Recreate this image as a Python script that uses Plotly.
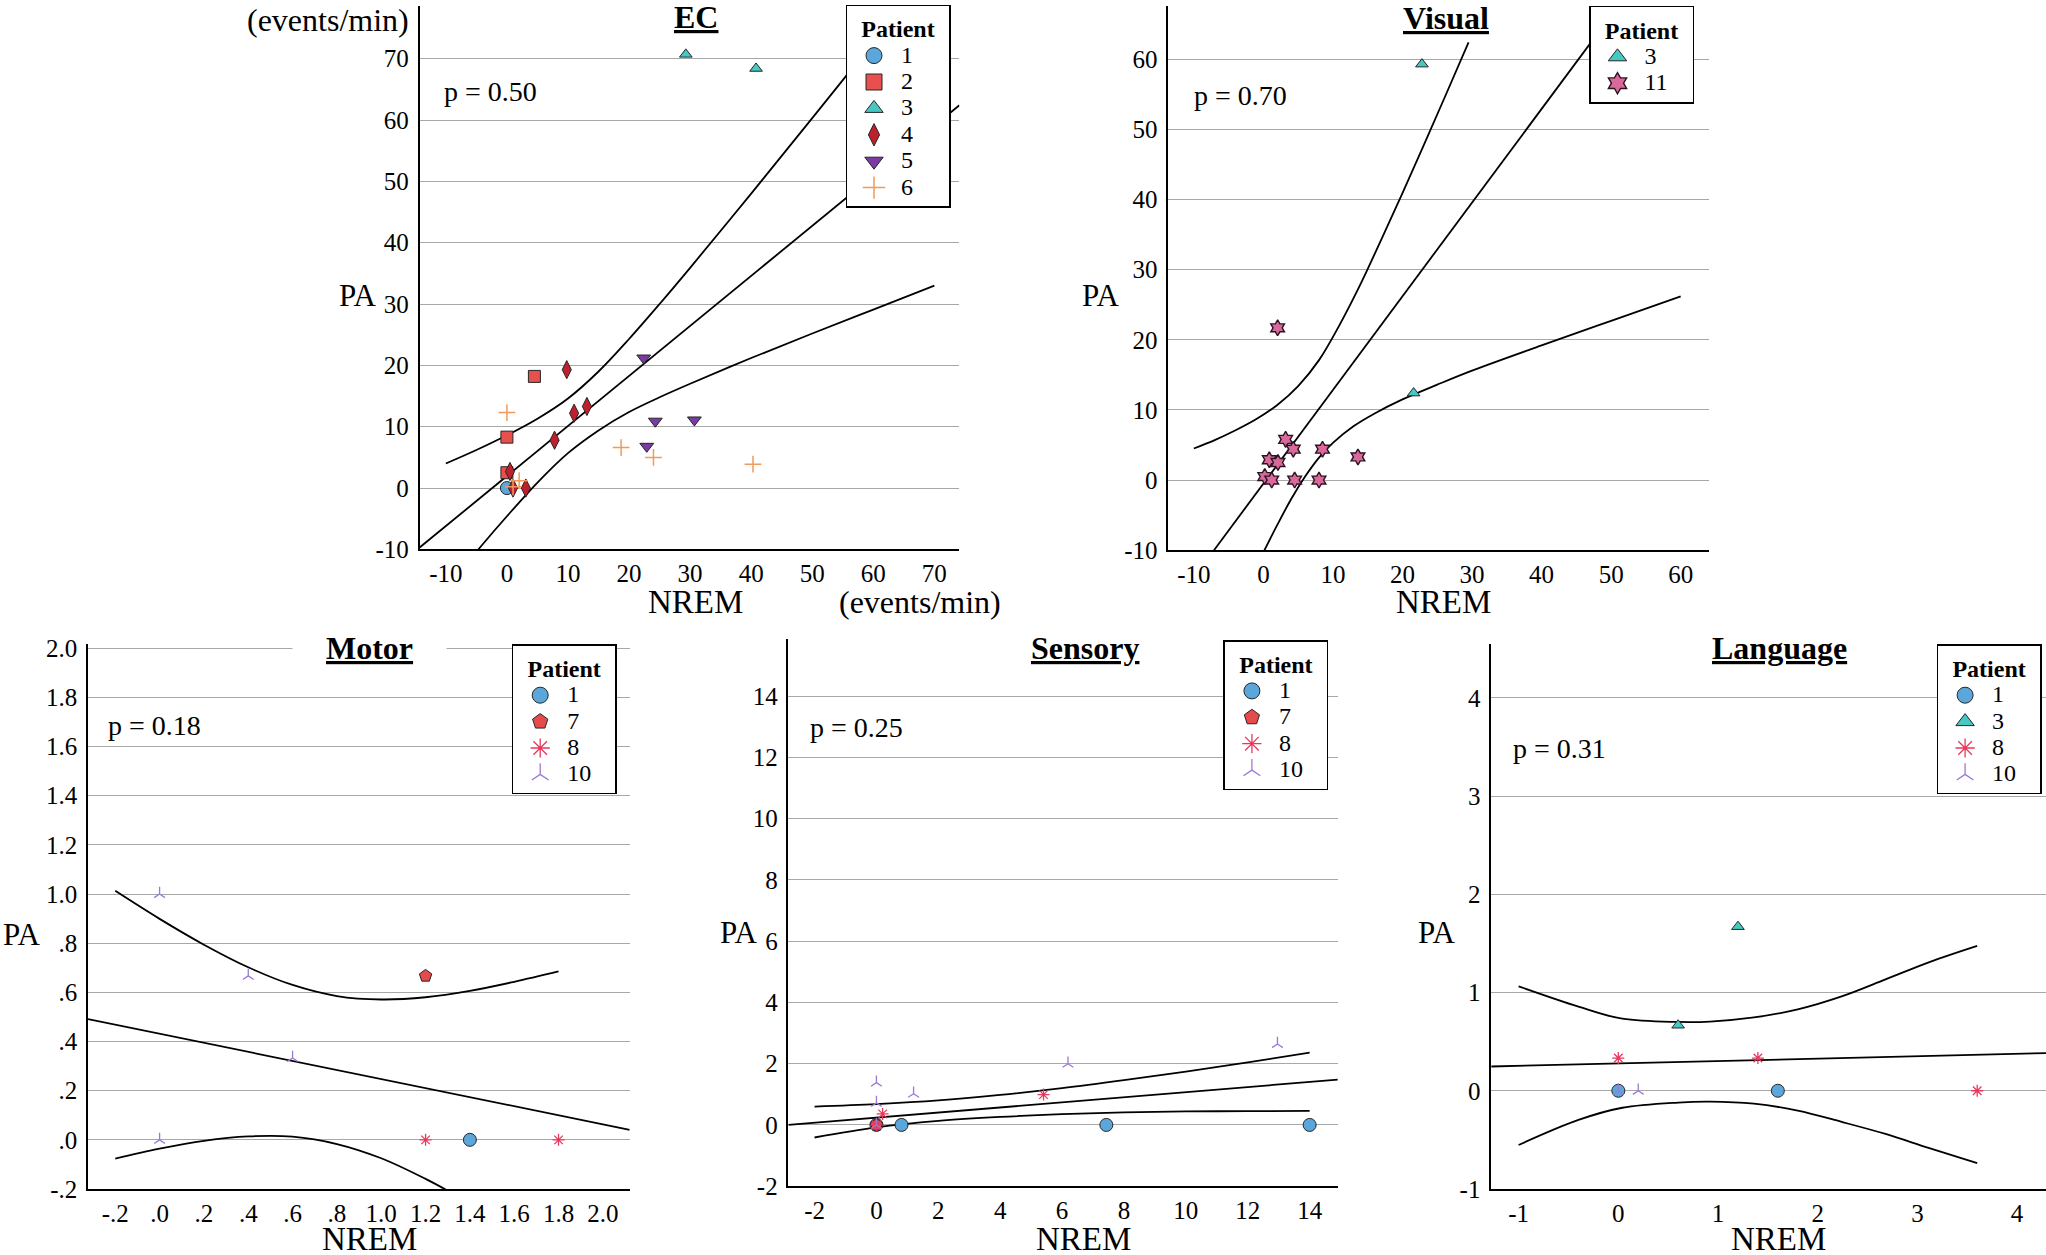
import plotly.graph_objects as go

W, H = 2046, 1255
FONT = "Liberation Serif"

# ---------------- data ----------------
# EC panel
EC_P1_X = [0.0];                          EC_P1_Y = [0.0]
EC_P2_X = [4.5, 0.0, 0.0];                EC_P2_Y = [18.2, 8.3, 2.5]
EC_P3_X = [29.3, 40.8];                   EC_P3_Y = [70.7, 68.4]
EC_P4_X = [9.8, 11.0, 13.1, 7.8, 0.5, 3.1, 1.0]
EC_P4_Y = [19.3, 12.2, 13.3, 7.8, 2.7, 0.0, 0.0]
EC_P5_X = [22.4, 24.3, 30.7, 22.9];       EC_P5_Y = [21.2, 10.9, 11.1, 6.8]
EC_P6_X = [0.0, 18.7, 24.0, 40.3, 2.0, 1.0]
EC_P6_Y = [12.3, 6.6, 5.0, 3.9, 1.2, 0.2]
EC_FIT_X = [-14.3, 74.1];                 EC_FIT_Y = [-9.7, 62.4]
EC_UP_X = [-10, -5, 0, 5, 10, 15, 20, 25, 30, 40, 50, 60, 65]
EC_UP_Y = [4.0, 6.2, 8.6, 11.3, 14.6, 19.0, 24.3, 30.0, 35.9, 48.0, 60.3, 72.7, 78.9]
EC_LO_X = [-5, -4, 0, 5, 10, 15, 20, 25, 30, 40, 50, 60, 70]
EC_LO_Y = [-10.4, -9.2, -4.6, 0.9, 5.7, 9.4, 12.4, 14.8, 17.0, 21.2, 25.2, 29.1, 33.0]

# Visual panel
VIS_P3_X = [22.8, 21.6];                  VIS_P3_Y = [59.3, 12.4]
VIS_P11_X = [2.05, 3.2, 4.3, 8.5, 13.6, 0.85, 2.1, 0.2, 1.2, 4.5, 8.0]
VIS_P11_Y = [21.7, 5.8, 4.4, 4.4, 3.3, 2.9, 2.5, 0.5, 0.0, 0.0, 0.0]
VIS_FIT_X = [-7.1, 51.0];                 VIS_FIT_Y = [-10.0, 67.6]
VIS_UP_X = [-10, -7, -4, -1, 2, 5, 8, 11, 14, 17, 20, 23, 26, 29.5]
VIS_UP_Y = [4.5, 5.7, 7.1, 8.7, 10.7, 13.4, 17.1, 22.2, 28.0, 34.4, 40.9, 47.6, 54.4, 62.4]
VIS_LO_X = [0, 2, 4, 6, 8, 10, 13, 16, 20, 25, 30, 40, 50, 60]
VIS_LO_Y = [-10.3, -6.4, -2.7, 0.5, 3.2, 5.3, 7.7, 9.5, 11.5, 13.6, 15.6, 19.2, 22.7, 26.2]

# Motor panel
MOT_P1_X = [1.4];                         MOT_P1_Y = [0.0]
MOT_P7_X = [1.2];                         MOT_P7_Y = [0.667]
MOT_P8_X = [1.2, 1.8];                    MOT_P8_Y = [0.0, 0.0]
MOT_P10_X = [0.0, 0.4, 0.6, 0.0];         MOT_P10_Y = [1.0, 0.667, 0.333, 0.0]
MOT_FIT_X = [-0.323, 2.121];              MOT_FIT_Y = [0.491, 0.041]
MOT_UP_X = [-0.2, 0.0, 0.2, 0.4, 0.6, 0.8, 1.0, 1.2, 1.4, 1.6, 1.8]
MOT_UP_Y = [1.013, 0.899, 0.794, 0.702, 0.630, 0.585, 0.571, 0.580, 0.606, 0.643, 0.685]
MOT_LO_X = [-0.2, 0.0, 0.2, 0.4, 0.6, 0.8, 1.0, 1.2, 1.3]
MOT_LO_Y = [-0.076, -0.036, -0.004, 0.014, 0.013, -0.017, -0.075, -0.159, -0.207]

# Sensory panel
SEN_P1_X = [0.0, 0.81, 7.43, 14.0];       SEN_P1_Y = [0.0, 0.0, 0.0, 0.0]
SEN_P7_X = [0.0];                         SEN_P7_Y = [0.0]
SEN_P8_X = [5.4, 0.2, 0.0];               SEN_P8_Y = [0.99, 0.36, 0.0]
SEN_P10_X = [0.0, 0.0, 1.2, 6.19, 12.96, 0.0]
SEN_P10_Y = [1.38, 0.72, 1.02, 2.0, 2.64, 0.0]
SEN_FIT_X = [-2.845, 14.91];              SEN_FIT_Y = [0.0, 1.48]
SEN_UP_X = [-2, 0, 2, 4, 6, 8, 10, 12, 14]
SEN_UP_Y = [0.60, 0.68, 0.80, 0.98, 1.20, 1.46, 1.74, 2.04, 2.36]
SEN_LO_X = [-2, 0, 2, 4, 6, 8, 10, 12, 14]
SEN_LO_Y = [-0.41, -0.08, 0.13, 0.26, 0.35, 0.41, 0.44, 0.45, 0.46]

# Language panel
LAN_P1_X = [0.0, 1.6];                    LAN_P1_Y = [0.0, 0.0]
LAN_P3_X = [1.2, 0.6];                    LAN_P3_Y = [1.67, 0.667]
LAN_P8_X = [0.0, 1.4, 3.6];               LAN_P8_Y = [0.333, 0.333, 0.0]
LAN_P10_X = [0.2, 0.0];                   LAN_P10_Y = [0.0, 0.0]
LAN_FIT_X = [-1.275, 4.29];               LAN_FIT_Y = [0.247, 0.383]
LAN_UP_X = [-1.0, -0.4, 0.04, 0.6, 0.92, 1.36, 1.8, 2.24, 2.68, 3.12, 3.6]
LAN_UP_Y = [1.063, 0.857, 0.733, 0.70, 0.704, 0.746, 0.828, 0.96, 1.133, 1.31, 1.475]
LAN_LO_X = [-1.0, -0.4, 0.04, 0.6, 0.92, 1.36, 1.8, 2.24, 2.68, 3.12, 3.6]
LAN_LO_Y = [-0.552, -0.297, -0.173, -0.12, -0.111, -0.132, -0.202, -0.317, -0.44, -0.585, -0.737]

# P-values and titles
P_VALUES = ["p = 0.50", "p = 0.70", "p = 0.18", "p = 0.25", "p = 0.31"]
PANEL_TITLES = ["EC", "Visual", "Motor", "Sensory", "Language"]

# tick values / labels
EC_TICKS = [-10, 0, 10, 20, 30, 40, 50, 60, 70]
EC_TICKTEXT = ["-10", "0", "10", "20", "30", "40", "50", "60", "70"]
VIS_TICKS = [-10, 0, 10, 20, 30, 40, 50, 60]
VIS_TICKTEXT = ["-10", "0", "10", "20", "30", "40", "50", "60"]
MOT_TICKS = [-0.2, 0.0, 0.2, 0.4, 0.6, 0.8, 1.0, 1.2, 1.4, 1.6, 1.8, 2.0]
MOT_TICKTEXT = ["-.2", ".0", ".2", ".4", ".6", ".8", "1.0", "1.2", "1.4", "1.6", "1.8", "2.0"]
SEN_TICKS = [-2, 0, 2, 4, 6, 8, 10, 12, 14]
SEN_TICKTEXT = ["-2", "0", "2", "4", "6", "8", "10", "12", "14"]
LAN_TICKS = [-1, 0, 1, 2, 3, 4]
LAN_TICKTEXT = ["-1", "0", "1", "2", "3", "4"]

# ---------------- styles ----------------
EDGE = "#262626"
STYLE = {
    "1": dict(symbol="circle", color="#5BA7DC", size=13, line=dict(color=EDGE, width=1)),
    "2": dict(symbol="square", color="#E8504E", size=12, line=dict(color=EDGE, width=1)),
    "3": dict(symbol="triangle-up", color="#46C9C3", size=11, line=dict(color=EDGE, width=1)),
    "4": dict(symbol="diamond-tall", color="#C0202E", size=13, line=dict(color=EDGE, width=1)),
    "5": dict(symbol="triangle-down", color="#7B3BA2", size=12, line=dict(color=EDGE, width=1)),
    "6": dict(symbol="cross-thin-open", color="#F09A5E", size=12, line=dict(color="#F09A5E", width=1.5)),
    "7": dict(symbol="pentagon", color="#E54B4B", size=13, line=dict(color=EDGE, width=1)),
    "8": dict(symbol="asterisk-open", color="#E8385E", size=10, line=dict(color="#E8385E", width=1.3)),
    "10": dict(symbol="y-up", color="#9C78D6", size=9, line=dict(color="#9C78D6", width=1.3)),
    "11": dict(symbol="hexagram", color="#D9689B", size=12, line=dict(color="#2a1420", width=1.4)),
}
LEGEND_SIZE = {"1": 18, "2": 18, "3": 16, "4": 16, "5": 16, "6": 18, "7": 18, "8": 16,
               "10": 14, "11": 16}

fig = go.Figure()


def axsuffix(k):
    return "" if k == 1 else str(k)


def add_points(pid, xs, ys, k):
    ax = axsuffix(k)
    fig.add_trace(go.Scatter(
        x=xs, y=ys, mode="markers", name=pid, marker=STYLE[pid], showlegend=False,
        xaxis="x" + ax, yaxis="y" + ax, cliponaxis=False,
    ))


def add_legend_entry(pid, k):
    ax = axsuffix(k)
    m = dict(STYLE[pid])
    m["size"] = LEGEND_SIZE[pid]
    fig.add_trace(go.Scatter(
        x=[None], y=[None], mode="markers",
        name='<span style="font-size:24px">' + pid + "</span>", marker=m,
        xaxis="x" + ax, yaxis="y" + ax, legend="legend" + ax,
    ))


def add_curve(xs, ys, k, smooth):
    ax = axsuffix(k)
    fig.add_trace(go.Scatter(
        x=xs, y=ys, mode="lines", showlegend=False, hoverinfo="skip",
        line=dict(color="black", width=1.8, shape="spline" if smooth else "linear",
                  smoothing=1.0),
        xaxis="x" + ax, yaxis="y" + ax,
    ))


panels = [
    (1, [("1", EC_P1_X, EC_P1_Y), ("2", EC_P2_X, EC_P2_Y), ("3", EC_P3_X, EC_P3_Y),
         ("4", EC_P4_X, EC_P4_Y), ("5", EC_P5_X, EC_P5_Y), ("6", EC_P6_X, EC_P6_Y)],
     (EC_FIT_X, EC_FIT_Y), (EC_UP_X, EC_UP_Y), (EC_LO_X, EC_LO_Y)),
    (2, [("3", VIS_P3_X, VIS_P3_Y), ("11", VIS_P11_X, VIS_P11_Y)],
     (VIS_FIT_X, VIS_FIT_Y), (VIS_UP_X, VIS_UP_Y), (VIS_LO_X, VIS_LO_Y)),
    (3, [("1", MOT_P1_X, MOT_P1_Y), ("7", MOT_P7_X, MOT_P7_Y),
         ("8", MOT_P8_X, MOT_P8_Y), ("10", MOT_P10_X, MOT_P10_Y)],
     (MOT_FIT_X, MOT_FIT_Y), (MOT_UP_X, MOT_UP_Y), (MOT_LO_X, MOT_LO_Y)),
    (4, [("1", SEN_P1_X, SEN_P1_Y), ("7", SEN_P7_X, SEN_P7_Y),
         ("8", SEN_P8_X, SEN_P8_Y), ("10", SEN_P10_X, SEN_P10_Y)],
     (SEN_FIT_X, SEN_FIT_Y), (SEN_UP_X, SEN_UP_Y), (SEN_LO_X, SEN_LO_Y)),
    (5, [("1", LAN_P1_X, LAN_P1_Y), ("3", LAN_P3_X, LAN_P3_Y),
         ("8", LAN_P8_X, LAN_P8_Y), ("10", LAN_P10_X, LAN_P10_Y)],
     (LAN_FIT_X, LAN_FIT_Y), (LAN_UP_X, LAN_UP_Y), (LAN_LO_X, LAN_LO_Y)),
]

for k, pts, fit, up, lo in panels:
    add_curve(fit[0], fit[1], k, False)
    add_curve(up[0], up[1], k, True)
    add_curve(lo[0], lo[1], k, True)
    for pid, xs, ys in pts:
        add_points(pid, xs, ys, k)
    for pid, xs, ys in pts:
        add_legend_entry(pid, k)


def px(v):
    return v / W


def py(v):
    return 1 - v / H


# plot areas in pixels: (left, right, top, bottom)
BOXES = {
    1: (419.6, 959.4, 5.9, 549.4),
    2: (1168.3, 1708.5, 5.9, 550.2),
    3: (88.0, 629.7, 644.3, 1189.0),
    4: (788.4, 1337.8, 639.4, 1186.2),
    5: (1491.2, 2046.0, 644.3, 1189.0),
}
RANGES = {
    1: ([-14.3, 74.1], [-10, 78.6]),
    2: ([-13.67, 64.0], [-10, 67.6]),
    3: ([-0.323, 2.121], [-0.2, 2.016]),
    4: ([-2.845, 14.91], [-2, 15.85]),
    5: ([-1.275, 4.29], [-1, 4.544]),
}
TICKS = {
    1: (EC_TICKS, EC_TICKTEXT),
    2: (VIS_TICKS, VIS_TICKTEXT),
    3: (MOT_TICKS, MOT_TICKTEXT),
    4: (SEN_TICKS, SEN_TICKTEXT),
    5: (LAN_TICKS, LAN_TICKTEXT),
}

layout = dict(
    template="none",
    width=W, height=H, margin=dict(l=0, r=0, t=0, b=0, pad=0, autoexpand=False),
    paper_bgcolor="white", plot_bgcolor="white",
    font=dict(family=FONT, color="black", size=24),
    showlegend=True,
)

TICKFONT = dict(family=FONT, size=25, color="black")
for k in range(1, 6):
    l, r, t, b = BOXES[k]
    xr, yr = RANGES[k]
    tv, tt = TICKS[k]
    ax = axsuffix(k)
    layout["xaxis" + ax] = dict(
        domain=[px(l), px(r)], range=xr, anchor="y" + ax, showgrid=False,
        zeroline=False, showline=True, linecolor="black", linewidth=1.5,
        ticks="", tickmode="array", tickvals=tv, ticktext=tt, automargin=False,
        tickfont=TICKFONT, ticklabelstandoff=1)
    layout["yaxis" + ax] = dict(
        domain=[py(b), py(t)], range=yr, anchor="x" + ax, showgrid=True,
        gridcolor="#a8a8a8", gridwidth=1.2, zeroline=False, showline=True,
        linecolor="black", linewidth=1.5, ticks="", tickmode="array",
        tickvals=tv, ticktext=tt, automargin=False,
        tickfont=TICKFONT, ticklabelstandoff=4)

LEG_POS = {1: (845.5, 4.7), 2: (1589.0, 5.9), 3: (511.7, 644.3), 4: (1223.4, 640.0),
           5: (1936.6, 644.3)}
PAD = "\u00a0" * 2
for k in range(1, 6):
    ax = axsuffix(k)
    lx, ly = LEG_POS[k]
    layout["legend" + ax] = dict(
        x=px(lx), y=py(ly), xanchor="left", yanchor="top",
        bgcolor="white", bordercolor="black", borderwidth=1.5,
        font=dict(family=FONT, size=18, color="black"),
        title=dict(text=PAD + "<b>Patient</b>" + PAD, side="top center",
                   font=dict(family=FONT, size=24, color="black")),
        itemsizing="trace", tracegroupgap=0, itemwidth=44,
    )

annotations = []


def ann(text, x, y, size, xanchor="center", **kw):
    annotations.append(dict(
        text=text, x=px(x), y=py(y), xref="paper", yref="paper",
        xanchor=xanchor, yanchor="middle", showarrow=False,
        font=dict(family=FONT, size=size, color="black"), **kw))


NB = "\u00a0" * 4
TITLE_POS = [(696.4, 17), (1446, 18), (369.5, 648.4), (1084.6, 648.4), (1779, 648.4)]
for name, (x, y) in zip(PANEL_TITLES, TITLE_POS):
    ann(NB + "<b><u>" + name + "</u></b>" + NB, x, y, 32, bgcolor="white")

P_POS = [(442, 91.7), (1192, 95), (106, 726), (808, 727.3), (1511, 748.8)]
for txt, (x, y) in zip(P_VALUES, P_POS):
    ann(txt, x, y, 28, xanchor="left")

for (x, y) in [(357.5, 295), (1100, 295), (21, 934), (738.5, 932), (1436.6, 932)]:
    ann("PA", x, y, 31)
for (x, y) in [(695, 602), (1443, 602), (369, 1239), (1083, 1239), (1778.5, 1239)]:
    ann("NREM", x, y, 33)

ann("(events/min)", 327.5, 20, 32)
ann("(events/min)", 920, 602, 32)

layout["annotations"] = annotations
fig.update_layout(**layout)

fig.write_html("out.html")
